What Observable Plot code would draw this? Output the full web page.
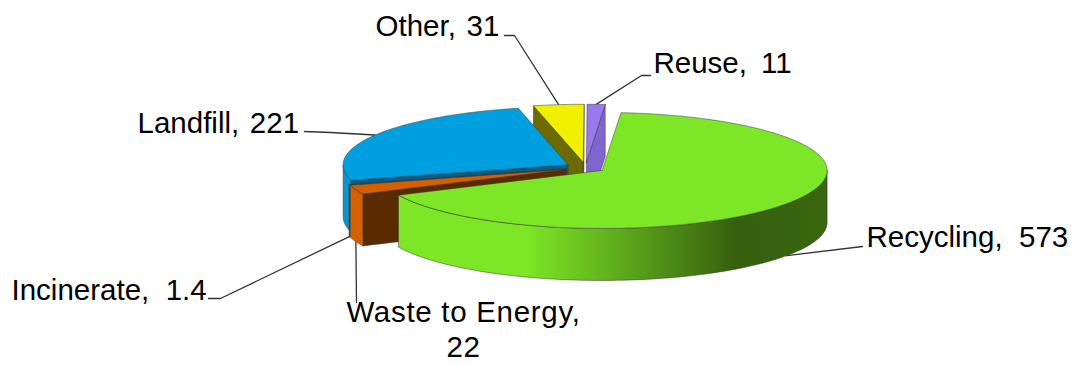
<!DOCTYPE html>
<html>
<head>
<meta charset="utf-8">
<style>
html,body{margin:0;padding:0;background:#fff;overflow:hidden}
.wide-label{letter-spacing:.7px}
</style>
<script src="https://cdn.jsdelivr.net/npm/d3@7"></script>
<script src="https://cdn.jsdelivr.net/npm/@observablehq/plot@0.6"></script>
</head>
<body>
<div id="chart"></div>
<script>
// Waste management tonnage by route, in clockwise order from the top of the pie.
const categories = ["Recycling", "Waste to Energy", "Incinerate", "Landfill", "Other", "Reuse"];
const values = [573, 22, 1.4, 221, 31, 11];
const valueLabels = ["573", "22", "1.4", "221", "31", "11"];

// Slice colours: top face, exposed cut face, outer wall.
const topColors = ["#7de626", "#d46000", "#0a5f80", "#00a0e0", "#f0f000", "#9a78ee"];
const cutColors = ["#37600f", "#5a2a00", "#0a5f80", "#00608a", "#6b6b00", "#7f66cc"];
const wallColors = ["url(#recycling-wall)", "#d46000", "#0a5f80", "#0c94cc", "#6b6b00", "#7f66cc"];

// Tilted-disc geometry in chart units.
const pie3d = {cx: 585, cy: 167, rx: 225, ry: 58, depth: 52, explode: 0.09, startDeg: 4.8};

// Label centres and the elbow of each leader line.
const labelLayout = {
  "Recycling": {x: 866, y: 237, anchor: "start", gap: "\u00a0 ", leader: [[862, 246]]},
  "Waste to Energy": {x: 463, y: 328, anchor: "middle", gap: "\n", leader: [[356, 302]]},
  "Incinerate": {x: 11, y: 290, anchor: "start", gap: "\u00a0 ", leader: [[208, 298], [220, 298]]},
  "Landfill": {x: 137, y: 123, anchor: "start", gap: "\u200a ", leader: [[304, 131], [330, 132]]},
  "Other": {x: 375, y: 26, anchor: "start", gap: "\u200a ", leader: [[504, 35], [514, 35]]},
  "Reuse": {x: 653, y: 63, anchor: "start", gap: "\u2009 ", leader: [[650, 75], [641, 75]]}
};

const toRad = Math.PI / 180;
const arcs = d3.pie().sort(null)
  .startAngle(pie3d.startDeg * toRad)
  .endAngle((pie3d.startDeg + 360) * toRad)(values);

const slices = arcs.map((a, i) => {
  const mid = (a.startAngle + a.endAngle) / 2;
  const ax = pie3d.cx + pie3d.explode * pie3d.rx * Math.sin(mid);
  const ay = pie3d.cy - pie3d.explode * pie3d.ry * Math.cos(mid);
  const rim = (t, drop = 0) => ({
    x: ax + pie3d.rx * Math.sin(t),
    y: ay - pie3d.ry * Math.cos(t) + drop
  });
  return {i, name: categories[i], s: a.startAngle, e: a.endAngle, mid, ax, ay, rim};
});

const arcPoints = (s, t0, t1, drop = 0) => {
  const n = Math.max(2, Math.ceil(Math.abs(t1 - t0) / (toRad * 1.5)));
  return d3.range(n + 1).map(k => s.rim(t0 + (t1 - t0) * k / n, drop));
};
const closed = pts => [...pts, pts[0]];
const face = (points, fill) => Plot.line(points, {
  x: "x", y: "y", fill, stroke: "#3a3a3a", strokeWidth: 0.6, strokeOpacity: 0.85
});

function sliceMarks(s) {
  const marks = [];
  const apex = {x: s.ax, y: s.ay};
  const apexLow = {x: s.ax, y: s.ay + pie3d.depth};
  const cutFace = t => closed([apex, s.rim(t), s.rim(t, pie3d.depth), apexLow]);
  // Cut faces turned toward the viewer.
  if (Math.sin(s.s) < 0) marks.push(face(cutFace(s.s), cutColors[s.i]));
  if (Math.sin(s.e) > 0) marks.push(face(cutFace(s.e), cutColors[s.i]));
  // Outer wall along the front half of the rim.
  const turn = Math.floor(s.s / (2 * Math.PI)) * 2 * Math.PI;
  const w0 = Math.max(s.s, turn + Math.PI / 2);
  const w1 = Math.min(s.e, turn + 3 * Math.PI / 2);
  if (w1 > w0) {
    marks.push(face(closed([...arcPoints(s, w0, w1), ...arcPoints(s, w1, w0, pie3d.depth)]), wallColors[s.i]));
  }
  // Top face.
  marks.push(face(closed([apex, ...arcPoints(s, s.s, s.e)]), topColors[s.i]));
  return marks;
}

// Leader lines run from the rim at each slice's mid-angle to its label.
const leaders = slices.flatMap(s => {
  const drop = Math.cos(s.mid) < 0 ? pie3d.depth : 0;
  const end = s.rim(s.mid, drop);
  return [end, ...labelLayout[s.name].leader.slice().reverse().map(([x, y]) => ({x, y}))]
    .map(p => ({x: p.x, y: p.y, name: s.name}));
});

const labels = slices.map(s => ({
  text: `${s.name},${labelLayout[s.name].gap}${valueLabels[s.i]}`,
  ...labelLayout[s.name]
}));

// Horizontal shading for the long front wall of the largest slice.
const wallGradient = (index, {x}) => {
  const defs = d3.create("svg:defs");
  const g = defs.append("linearGradient")
    .attr("id", "recycling-wall")
    .attr("gradientUnits", "userSpaceOnUse")
    .attr("x1", x(398)).attr("x2", x(826)).attr("y1", 0).attr("y2", 0);
  [[0, "#7de626"], [0.3, "#7de626"], [0.79, "#365f0e"], [1, "#3a660f"]]
    .forEach(([o, c]) => g.append("stop").attr("offset", o).attr("stop-color", c));
  return defs.node();
};

const order = d3.sort(slices, s => -Math.cos(s.mid));

const chart = Plot.plot({
  width: 1073,
  height: 365,
  margin: 0,
  x: {domain: [0, 1073], range: [0, 1073], axis: null},
  y: {domain: [0, 365], range: [0, 365], axis: null},
  style: {background: "#fff", fontFamily: "'Liberation Sans', Arial, sans-serif"},
  marks: [
    wallGradient,
    Plot.line(leaders, {x: "x", y: "y", z: "name", stroke: "#333", strokeWidth: 1.3}),
    ...order.flatMap(sliceMarks),
    Plot.text(labels.filter(d => d.anchor === "start"), {
      x: "x", y: "y", text: "text", textAnchor: "start", lineAnchor: "middle",
      fontSize: 29.5, fill: "#000"
    }),
    Plot.text(labels.filter(d => d.anchor === "middle"), {
      x: "x", y: "y", text: "text", textAnchor: "middle", lineAnchor: "middle",
      fontSize: 29.5, lineHeight: 1.19, fill: "#000", className: "wide-label"
    })
  ]
});
document.getElementById("chart").append(chart);
</script>
</body>
</html>
